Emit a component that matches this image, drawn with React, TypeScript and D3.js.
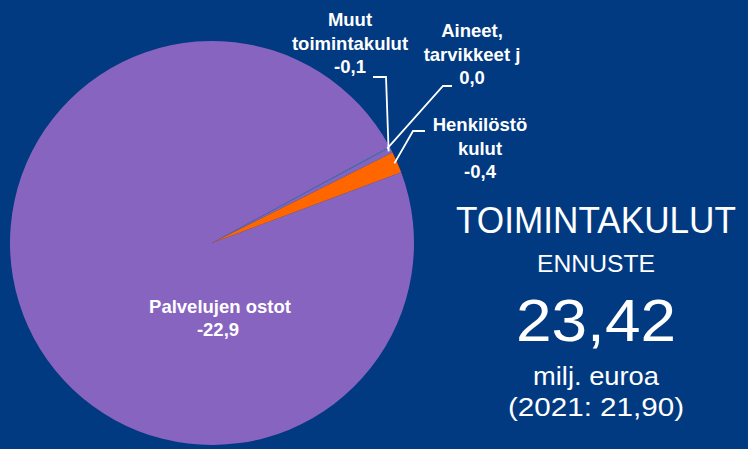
import React, { useEffect, useRef } from 'react';
import * as d3 from 'd3';

// slices in drawing order (clockwise from start angle)
const categories = ['Palvelujen ostot', 'Aineet, tarvikkeet j', 'Muut toimintakulut', 'Henkilöstökulut'];
const values = [22.9, 0.02, 0.1, 0.4];
const valueLabels = ['-22,9', '0,0', '-0,1', '-0,4'];
const labelLines = [
  ['Palvelujen ostot'],
  ['Aineet,', 'tarvikkeet j'],
  ['Muut', 'toimintakulut'],
  ['Henkilöstö', 'kulut'],
];
const colors = ['#8764c0', '#4f8a9c', '#7f66c2', '#ff6600'];

const W = 748;
const H = 449;
const BG = '#013a81';

const App = () => {
  const ref = useRef<SVGSVGElement>(null);

  useEffect(() => {
    const svg = d3.select(ref.current);
    svg.selectAll('*').remove();

    const cx = 212;
    const cy = 243;
    const r = 202;
    const start = (69.5 * Math.PI) / 180;

    svg.append('rect').attr('width', W).attr('height', H).attr('fill', BG);

    const pie = d3
      .pie<number>()
      .sort(null)
      .value((d) => d)
      .startAngle(start)
      .endAngle(start + 2 * Math.PI);
    const arcs = pie(values);
    const arc = d3.arc<d3.PieArcDatum<number>>().innerRadius(0).outerRadius(r);

    const g = svg.append('g').attr('transform', `translate(${cx},${cy})`);
    g.selectAll('path')
      .data(arcs)
      .join('path')
      .attr('d', arc)
      .attr('fill', (_, i) => colors[i])
      .append('title')
      .text((_, i) => categories[i]);

    const font = '"Liberation Sans", Arial, sans-serif';

    // label for the big slice, inside
    const inner = svg.append('text')
      .attr('font-family', font)
      .attr('font-weight', 'bold')
      .attr('font-size', 18.5)
      .attr('fill', '#fff')
      .attr('text-anchor', 'middle');
    inner.append('tspan').attr('x', 220).attr('y', 313).text(labelLines[0][0]);
    inner.append('tspan').attr('x', 218).attr('y', 336).text(valueLabels[0]);

    // outside labels with leader lines: [label x, first baseline, elbow points]
    const outside = [
      { i: 1, x: 472, y: 37, line: [[452, 86], [443, 86]] },
      { i: 2, x: 350, y: 26, line: [[373, 77], [386, 77]] },
      { i: 3, x: 480, y: 131, line: [[425, 131], [413, 131]] },
    ];
    outside.forEach((o) => {
      const a = arcs[o.i];
      const mid = (a.startAngle + a.endAngle) / 2;
      const px = cx + (r - 3) * Math.sin(mid);
      const py = cy - (r - 3) * Math.cos(mid);
      const pts: [number, number][] = [...(o.line as [number, number][]), [px, py]];
      svg.append('path')
        .attr('d', d3.line()(pts))
        .attr('fill', 'none')
        .attr('stroke', '#fff')
        .attr('stroke-width', 1.8);
      const t = svg.append('text')
        .attr('font-family', font)
        .attr('font-weight', 'bold')
        .attr('font-size', 18.5)
        .attr('fill', '#fff')
        .attr('text-anchor', 'middle');
      [...labelLines[o.i], valueLabels[o.i]].forEach((s, k) => {
        t.append('tspan').attr('x', o.x).attr('y', o.y + k * 23.5).text(s);
      });
    });

    // summary panel
    const total = d3.sum(values);
    const fmt = (v: number) => d3.format('.2f')(v).replace('.', ',');
    const panel = [
      { text: 'TOIMINTAKULUT', y: 233, size: 36.5, len: 280 },
      { text: 'ENNUSTE', y: 272, size: 23, len: 118 },
      { text: fmt(total), y: 341, size: 60, len: 160 },
      { text: 'milj. euroa', y: 385, size: 26, len: 126 },
      { text: '(2021: 21,90)', y: 416, size: 26, len: 176 },
    ];
    panel.forEach((p) => {
      const t = svg.append('text')
        .attr('x', 596)
        .attr('y', p.y)
        .attr('font-family', font)
        .attr('font-size', p.size)
        .attr('fill', '#fff')
        .attr('text-anchor', 'middle')
        .text(p.text);
      if (p.len) t.attr('textLength', p.len).attr('lengthAdjust', 'spacingAndGlyphs');
    });
  }, []);

  return (
    <svg
      ref={ref}
      width={W}
      height={H}
      style={{ position: 'absolute', left: 0, top: 0, display: 'block' }}
    />
  );
};

export default App;
